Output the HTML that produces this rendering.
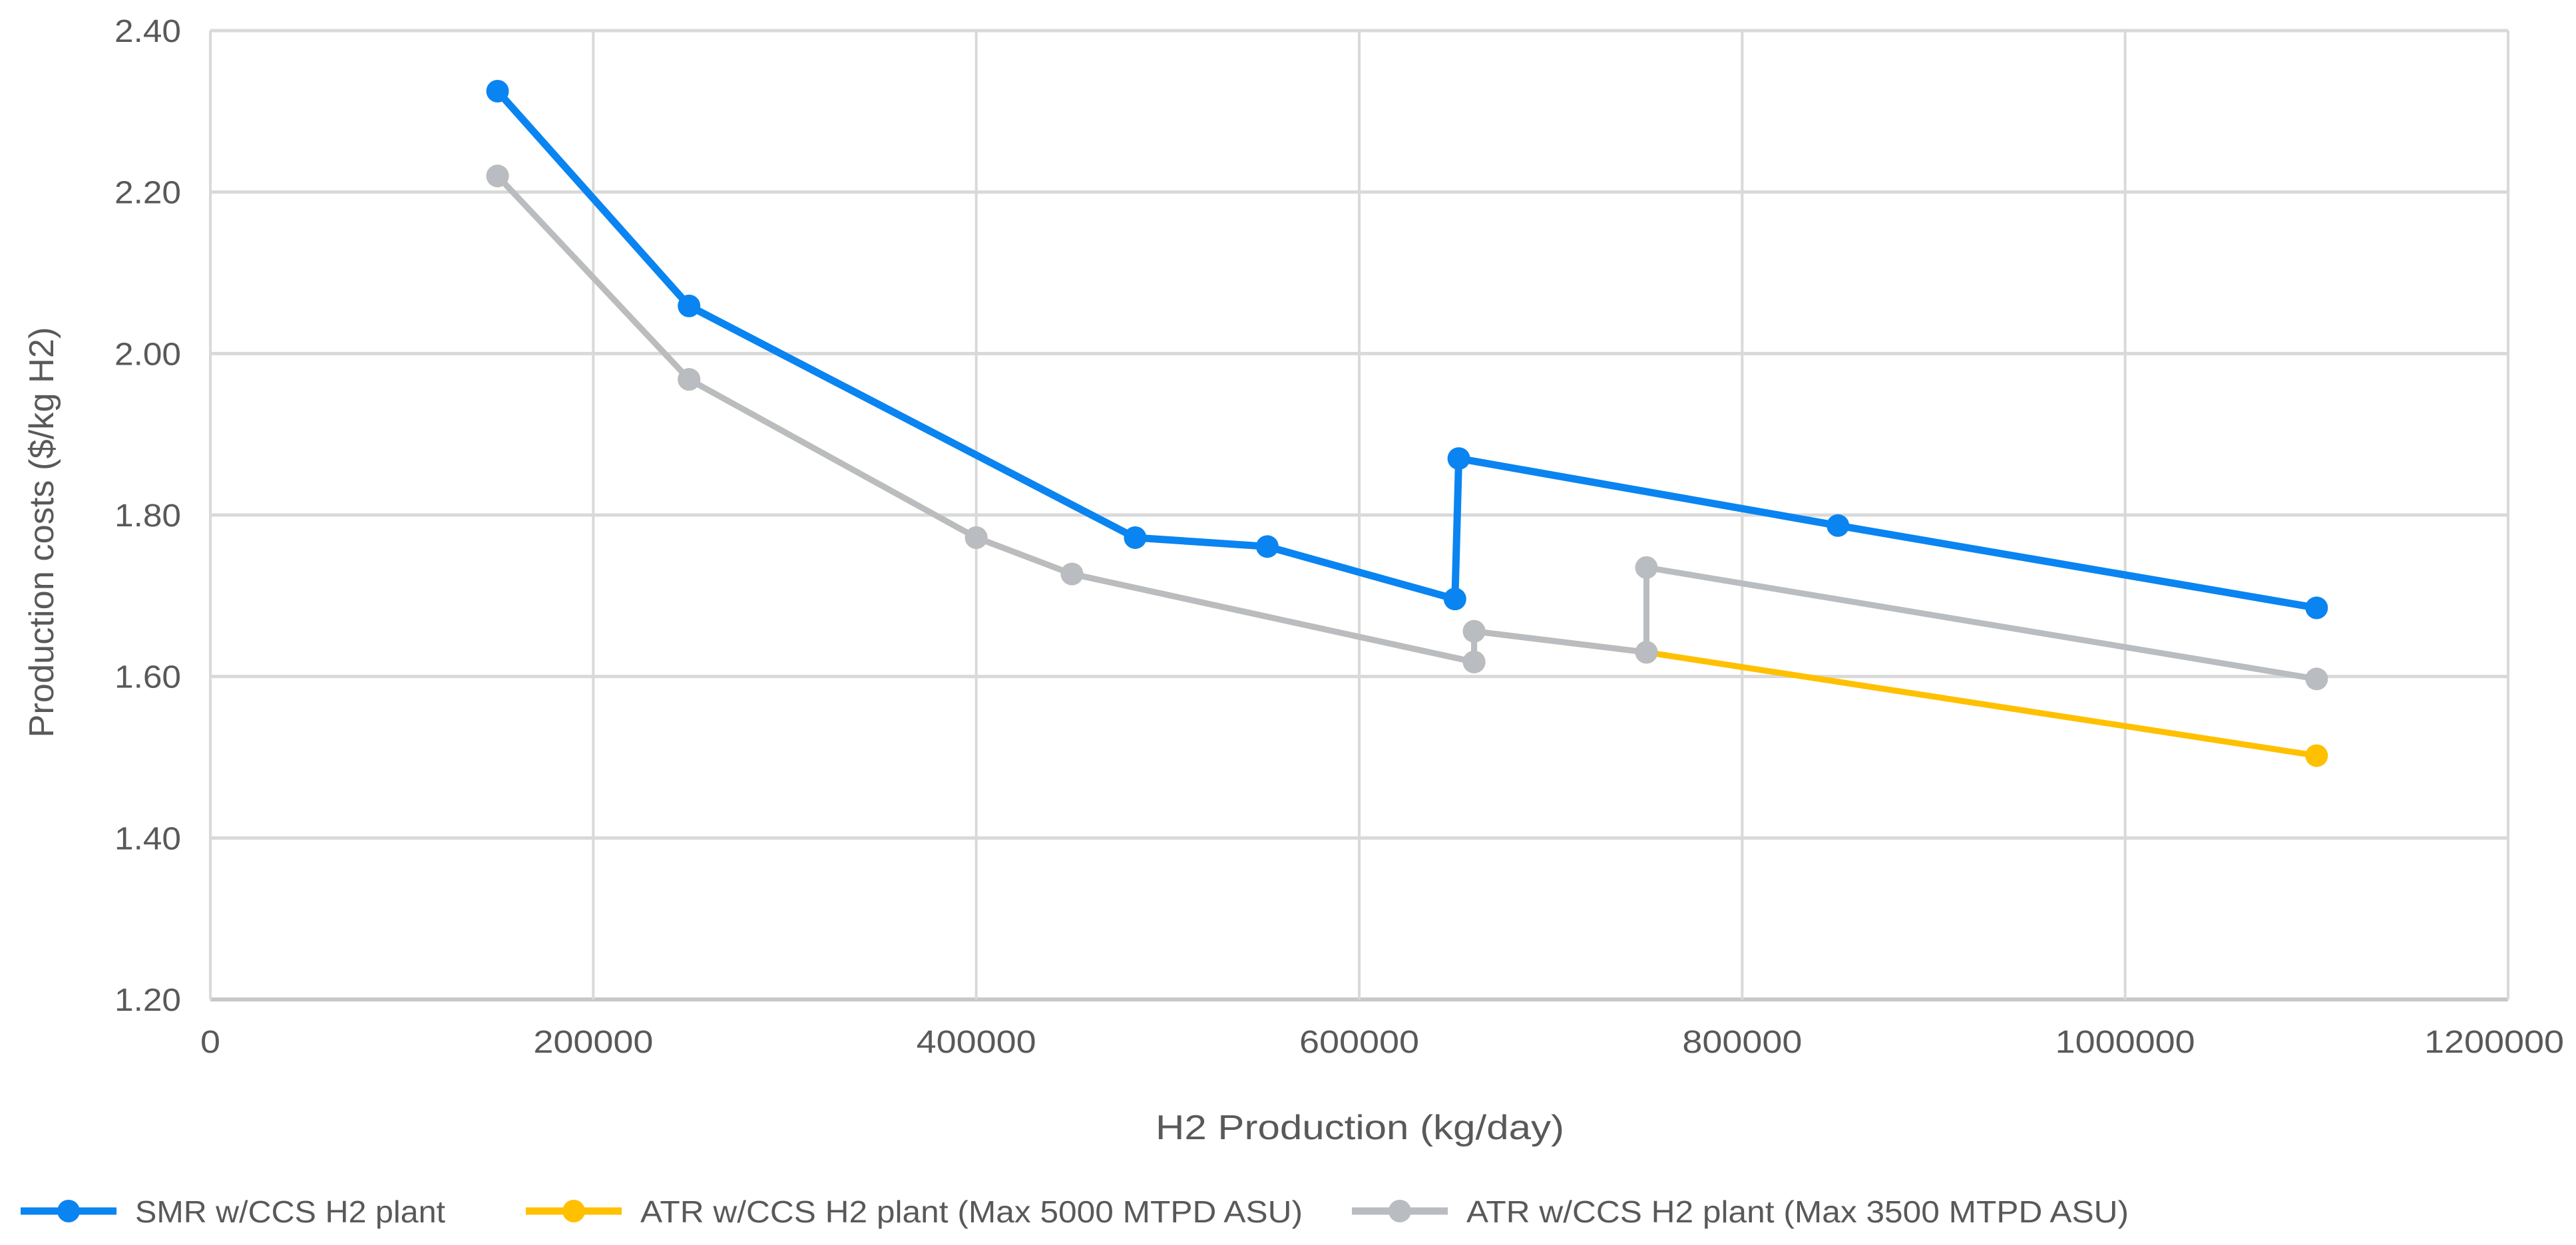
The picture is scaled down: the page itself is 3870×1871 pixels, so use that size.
<!DOCTYPE html>
<html><head><meta charset="utf-8"><style>
html,body{margin:0;padding:0;background:#fff;}
svg{display:block;font-family:"Liberation Sans",sans-serif;}
</style></head><body>
<svg id="chart" width="3870" height="1871" viewBox="0 0 3870 1871" xmlns="http://www.w3.org/2000/svg">
<g id="grid"></g>
<g id="axes"></g>
<g id="series"></g>
<text transform="translate(80,800) rotate(-90)" text-anchor="middle" font-size="52" fill="#595959" textLength="617" lengthAdjust="spacingAndGlyphs">Production costs ($/kg H2)</text>
<text x="2043" y="1712" text-anchor="middle" font-size="52" fill="#595959" textLength="614" lengthAdjust="spacingAndGlyphs">H2 Production (kg/day)</text>
<g id="legend"></g>
</svg>
<script>
const xTicks = [0,200000,400000,600000,800000,1000000,1200000];
const yTicks = [1.2,1.4,1.6,1.8,2.0,2.2,2.4];
const smrX = [150000,250000,483000,552000,650000,652000,850000,1100000];
const smrY = [2.325,2.059,1.772,1.761,1.696,1.870,1.787,1.685];
const atr5X = [150000,250000,400000,450000,660000,660000,750000,1100000];
const atr5Y = [2.220,1.968,1.772,1.727,1.618,1.656,1.630,1.502];
const atr35X = [150000,250000,400000,450000,660000,660000,750000,750000,1100000];
const atr35Y = [2.220,1.968,1.772,1.727,1.618,1.656,1.630,1.735,1.597];
const seriesNames = ["SMR w/CCS H2 plant","ATR w/CCS H2 plant (Max 5000 MTPD ASU)","ATR w/CCS H2 plant (Max 3500 MTPD ASU)"];

const NS="http://www.w3.org/2000/svg";
const X0=316,X1=3768,Y0=1502,Y1=46;
function sx(v){return X0+(v-0)/(1200000-0)*(X1-X0);}
function sy(v){return Y0-(v-1.2)/(2.4-1.2)*(Y0-Y1);}
function mk(tag,attrs,parent){const e=document.createElementNS(NS,tag);for(const k in attrs)e.setAttribute(k,attrs[k]);parent.appendChild(e);return e;}
const grid=document.getElementById('grid'),axes=document.getElementById('axes'),ser=document.getElementById('series'),leg=document.getElementById('legend');

yTicks.forEach(t=>{
  const l=mk('line',{x1:X0,x2:X1,y1:sy(t),y2:sy(t),stroke:t===1.2?'#c8c8c8':'#d9d9d9','stroke-width':t===1.2?6:5},grid);
  
  
  const tx=mk('text',{x:272,y:sy(t)+17,'text-anchor':'end','font-size':48,fill:'#595959',textLength:100,lengthAdjust:'spacingAndGlyphs'},axes);
  tx.textContent=t.toFixed(2);
  
  
});
xTicks.forEach((t,i)=>{
  const l=mk('line',{x1:sx(t),x2:sx(t),y1:Y1,y2:Y0,stroke:'#d9d9d9','stroke-width':4},grid);
  
  
  const s=String(t);
  const last=i===xTicks.length-1;
  const tx=mk('text',{x:last?3852:sx(t),y:1582,'text-anchor':last?'end':'middle','font-size':48,fill:'#595959',textLength:s.length*30,lengthAdjust:'spacingAndGlyphs'},axes);
  tx.textContent=s;
  
  
});

function drawSeries(xs,ys,color,w,name){
  const g=mk('g',{},ser);
  
  
  const pts=xs.map((x,i)=>sx(x)+','+sy(ys[i])).join(' ');
  const p=mk('polyline',{points:pts,fill:'none',stroke:color,'stroke-width':w,'stroke-linejoin':'round'},g);
  
  
  xs.forEach((x,i)=>{
    const c=mk('circle',{cx:sx(x),cy:sy(ys[i]),r:17,fill:color},g);
    
    
  });
}
drawSeries(smrX,smrY,'#0a84f0',11,'smr-series');
drawSeries(atr5X,atr5Y,'#ffc000',9,'atr-5000-series');
drawSeries(atr35X,atr35Y,'#b9bcc0',9,'atr-3500-series');

const legColors=['#0a84f0','#ffc000','#b9bcc0'];
const legLineX=[31,790,2031];
const legTextW=[466,995,995];
seriesNames.forEach((n,i)=>{
  const g=mk('g',{},leg);
  
  
  mk('line',{x1:legLineX[i],x2:legLineX[i]+144,y1:1820,y2:1820,stroke:legColors[i],'stroke-width':11},g);
  mk('circle',{cx:legLineX[i]+72,cy:1820,r:17,fill:legColors[i]},g);
  const t=mk('text',{x:legLineX[i]+172,y:1837,'font-size':46,fill:'#595959',textLength:legTextW[i],lengthAdjust:'spacingAndGlyphs'},g);
  t.textContent=n;
  
  
});
</script>
</body></html>
